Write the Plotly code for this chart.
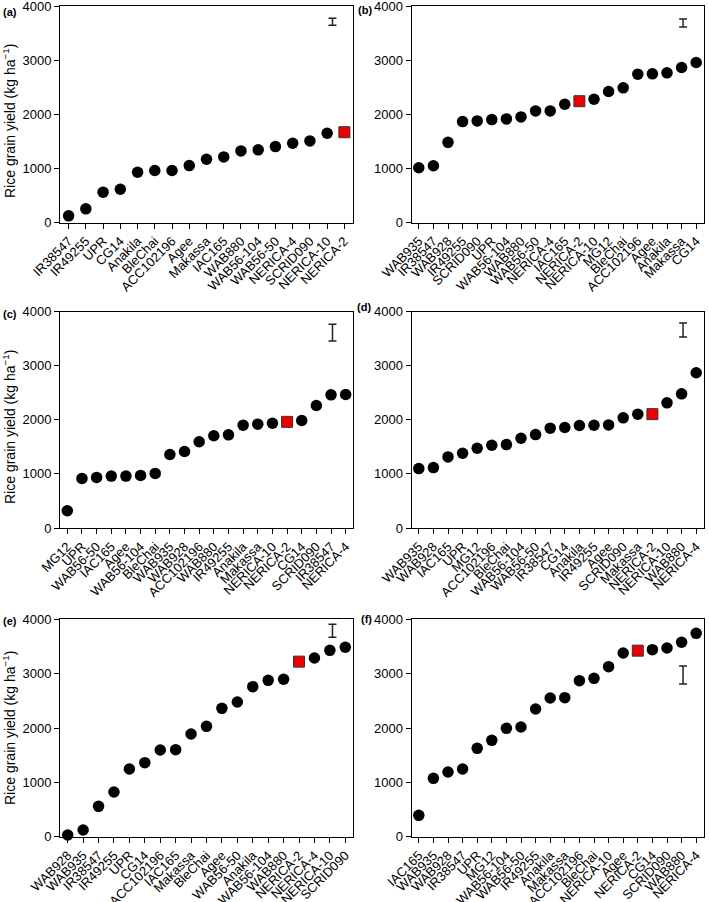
import plotly.graph_objects as go

# (a)
cultivars_a = ["IR38547", "IR49255", "UPR", "CG14", "Anakila", "BleChai", "ACC102196",
               "Agee", "Makassa", "IAC165", "WAB880", "WAB56-104", "WAB56-50",
               "NERICA-4", "SCRID090", "NERICA-10", "NERICA-2"]
yield_a = [123, 252, 560, 615, 929, 960, 960, 1052, 1169, 1212, 1323, 1342, 1403,
           1465, 1508, 1649, 1668]

# (b)
cultivars_b = ["WAB935", "IR38547", "WAB928", "IR49255", "SCRID090", "UPR", "WAB56-104",
               "WAB880", "WAB56-50", "NERICA-4", "IAC165", "NERICA-2", "NERICA-10",
               "MG12", "BleChai", "ACC102196", "Agee", "Anakila", "Makassa", "CG14"]
yield_b = [1012, 1049, 1481, 1864, 1877, 1901, 1914, 1951, 2062, 2062, 2185, 2241,
           2278, 2420, 2488, 2741, 2747, 2765, 2864, 2957]

# (c)
cultivars_c = ["MG12", "UPR", "WAB56-50", "IAC165", "Agee", "WAB56-104", "BleChai",
               "WAB935", "WAB928", "ACC102196", "WAB880", "IR49255", "Anakila",
               "Makassa", "NERICA-10", "NERICA-2", "CG14", "SCRID090", "IR38547", "NERICA-4"]
yield_c = [320, 917, 935, 960, 960, 972, 1009, 1360, 1415, 1594, 1705, 1723, 1902,
           1920, 1938, 1963, 1988, 2265, 2462, 2468]

# (d)
cultivars_d = ["WAB935", "WAB928", "IAC165", "UPR", "MG12", "ACC102196", "BleChai",
               "WAB56-104", "WAB56-50", "IR38547", "CG14", "Anakila", "IR49255", "Agee",
               "SCRID090", "Makassa", "NERICA-2", "NERICA-10", "WAB880", "NERICA-4"]
yield_d = [1099, 1117, 1315, 1383, 1475, 1531, 1543, 1660, 1728, 1846, 1858, 1895,
           1901, 1907, 2037, 2105, 2105, 2315, 2481, 2870]

# (e)
cultivars_e = ["WAB928", "WAB935", "IR38547", "IR49255", "UPR", "CG14", "ACC102196",
               "IAC165", "Makassa", "BleChai", "Agee", "WAB56-50", "Anakila",
               "WAB56-104", "WAB880", "NERICA-2", "NERICA-4", "NERICA-10", "SCRID090"]
yield_e = [31, 123, 558, 822, 1245, 1362, 1595, 1601, 1890, 2031, 2362, 2479, 2761,
           2877, 2896, 3221, 3288, 3429, 3485]

# (f)
cultivars_f = ["IAC165", "WAB935", "WAB928", "IR38547", "UPR", "MG12", "WAB56-104",
               "WAB56-50", "IR49255", "Anakila", "Makassa", "ACC102196", "BleChai",
               "NERICA-10", "Agee", "NERICA-2", "CG14", "SCRID090", "WAB880", "NERICA-4"]
yield_f = [393, 1074, 1190, 1245, 1626, 1773, 1994, 2018, 2350, 2552, 2558, 2871,
           2914, 3129, 3380, 3423, 3442, 3472, 3577, 3742]

# LSD bar per panel (centre and half length)
lsd_mid = [3708, 3685, 3612, 3660, 3788, 2975]
lsd_half = [65, 74, 154, 130, 120, 166]

panel_labels = ["(a)", "(b)", "(c)", "(d)", "(e)", "(f)"]
highlight = "NERICA-2"
y_ticks = [0, 1000, 2000, 3000, 4000]

W, H = 709, 902
FONT = "Liberation Sans, Arial, Helvetica, sans-serif"

panels = [
    (cultivars_a, yield_a), (cultivars_b, yield_b),
    (cultivars_c, yield_c), (cultivars_d, yield_d),
    (cultivars_e, yield_e), (cultivars_f, yield_f),
]

# plot-area boxes in pixels: left, right, top, bottom
cols = [(60, 353), (411.5, 703.5)]
rows = [(6, 222.5), (311.7, 528), (619.3, 836.7)]
label_pos = [(1, 4), (356, 2), (1, 306), (355, 299), (1, 613), (359, 611)]
ytitle_y = [121, 427, 728]

fig = go.Figure()
layout = {}
annotations = []

for i, (names, vals) in enumerate(panels):
    r, c = divmod(i, 2)
    l, rt = cols[c]
    t, b = rows[r]
    xa = "x" if i == 0 else f"x{i + 1}"
    ya = "y" if i == 0 else f"y{i + 1}"
    n = len(names)
    idx = list(range(n))

    black_x = [k for k in idx if names[k] != highlight]
    black_y = [vals[k] for k in black_x]
    red_x = [k for k in idx if names[k] == highlight]
    red_y = [vals[k] for k in red_x]

    fig.add_trace(go.Scatter(
        x=black_x, y=black_y, mode="markers", xaxis=xa, yaxis=ya,
        marker=dict(symbol="circle", size=11.5, color="black"),
        cliponaxis=False, hoverinfo="skip"))
    fig.add_trace(go.Scatter(
        x=red_x, y=red_y, mode="markers", xaxis=xa, yaxis=ya,
        marker=dict(symbol="square", size=11, color="#ee0000",
                    line=dict(color="#333333", width=1)),
        cliponaxis=False, hoverinfo="skip"))
    # LSD bar, drawn near the top right of each panel
    fig.add_trace(go.Scatter(
        x=[-0.5 + 0.93 * n], y=[lsd_mid[i]], mode="markers", xaxis=xa, yaxis=ya,
        marker=dict(size=1, color="rgba(0,0,0,0)"),
        error_y=dict(type="data", array=[lsd_half[i]], visible=True,
                     color="#222222", thickness=1.5, width=4),
        hoverinfo="skip"))

    key = "" if i == 0 else str(i + 1)
    layout["xaxis" + key] = dict(
        domain=[l / W, rt / W], anchor=ya, range=[-0.5, n - 0.5], automargin=False,
        tickmode="array", tickvals=idx, ticktext=names, tickangle=-45,
        ticks="outside", ticklen=5, tickwidth=1, tickcolor="black",
        showline=True, linecolor="black", linewidth=1, mirror=True,
        showgrid=False, zeroline=False, ticklabeloverflow="allow",
        tickfont=dict(family=FONT, size=13, color="black"))
    layout["yaxis" + key] = dict(
        domain=[1 - b / H, 1 - t / H], anchor=xa, range=[0, 4000], automargin=False,
        tickmode="array", tickvals=y_ticks,
        ticks="outside", ticklen=5, tickwidth=1, tickcolor="black",
        showline=True, linecolor="black", linewidth=1, mirror=True,
        showgrid=False, zeroline=False, ticklabeloverflow="allow",
        tickfont=dict(family=FONT, size=13, color="black"))

    lx, ly = label_pos[i]
    annotations.append(dict(
        text=f"<b>{panel_labels[i]}</b>", xref="paper", yref="paper",
        x=lx / W, y=1 - ly / H, xanchor="left", yanchor="top", showarrow=False,
        font=dict(family=FONT, size=11, color="black")))

    if c == 0:
        annotations.append(dict(
            text="Rice grain yield (kg ha<sup>−1</sup>)", xref="paper", yref="paper",
            x=9 / W, y=1 - ytitle_y[r] / H, xanchor="center", yanchor="middle",
            textangle=-90, showarrow=False,
            font=dict(family=FONT, size=14, color="black")))

fig.update_layout(
    width=W, height=H, margin=dict(l=0, r=0, t=0, b=0, autoexpand=False),
    paper_bgcolor="white", plot_bgcolor="white", showlegend=False,
    annotations=annotations, **layout)

# page body has a default 8px margin; drop it so the figure fills the window
fig.write_html("out.html", config={"displayModeBar": False},
               post_script="document.body.style.margin='0';")
